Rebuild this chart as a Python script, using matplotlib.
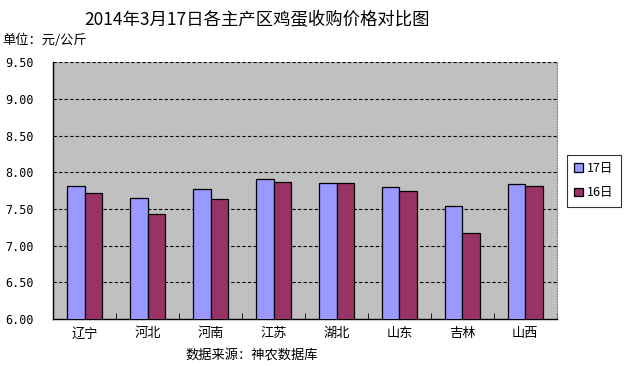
import matplotlib
matplotlib.use("Agg")
import matplotlib.pyplot as plt
import numpy as np

plt.rcParams['font.family'] = ['Noto Sans CJK SC', 'DejaVu Sans']

categories = ['辽宁', '河北', '河南', '江苏', '湖北', '山东', '吉林', '山西']
day17 = [7.81, 7.65, 7.77, 7.91, 7.85, 7.80, 7.54, 7.84]
day16 = [7.72, 7.43, 7.64, 7.87, 7.85, 7.74, 7.17, 7.81]
series_names = ['17日', '16日']
yticks = [6.00, 6.50, 7.00, 7.50, 8.00, 8.50, 9.00, 9.50]

fig = plt.figure(figsize=(6.27, 3.66), dpi=100)
ax = fig.add_axes([0.085, 0.1284, 0.803, 0.7016])
ax.set_facecolor('#C0C0C0')

x = np.arange(len(categories))
w = 0.28
ax.bar(x - w/2, day17, w, bottom=0, color='#9999FF', edgecolor='black', linewidth=0.9, label=series_names[0], zorder=3)
ax.bar(x + w/2, day16, w, color='#993366', edgecolor='black', linewidth=0.9, label=series_names[1], zorder=3)

ax.set_ylim(6.0, 9.5)
ax.set_xlim(-0.5, len(categories) - 0.5)
ax.set_yticks(yticks)
ax.set_yticklabels([f'{v:.2f}' for v in yticks], fontsize=8.5, family='DejaVu Sans Mono')
ax.tick_params(axis='y', length=0, pad=14)
for v in yticks[1:]:
    ax.axhline(v, color='black', linestyle=(0, (3, 2)), linewidth=0.8, zorder=1)

ax.set_xticks(x)
ax.set_xticklabels(categories, fontsize=9.5)
ax.tick_params(axis='x', length=0, pad=6)
ax.set_xticks(np.arange(-0.5, len(categories), 1.0), minor=True)
ax.tick_params(axis='x', which='minor', length=4, direction='in', color='black')

for s in ['left', 'bottom']:
    ax.spines[s].set_color('black')
    ax.spines[s].set_linewidth(1.0)
ax.spines['top'].set_visible(False)
ax.spines['right'].set_color('#808080')
ax.spines['right'].set_linestyle((0, (1, 1.5)))
ax.spines['right'].set_linewidth(0.8)

fig.text(0.41, 0.945, '2014年3月17日各主产区鸡蛋收购价格对比图', ha='center', va='center', fontsize=12.5)
fig.text(0.003, 0.89, '单位：元/公斤', ha='left', va='center', fontsize=9.5)
fig.text(0.402, 0.03, '数据来源：神农数据库', ha='center', va='center', fontsize=9.5)

leg = fig.legend(loc='center left', bbox_to_anchor=(0.904, 0.506), frameon=True, fancybox=False,
                 edgecolor='black', fontsize=9, handlelength=0.7, handleheight=0.7,
                 handletextpad=0.3, borderpad=0.6, labelspacing=0.9, borderaxespad=0)
leg.get_frame().set_linewidth(0.8)

fig.savefig('out.png', dpi=100)
